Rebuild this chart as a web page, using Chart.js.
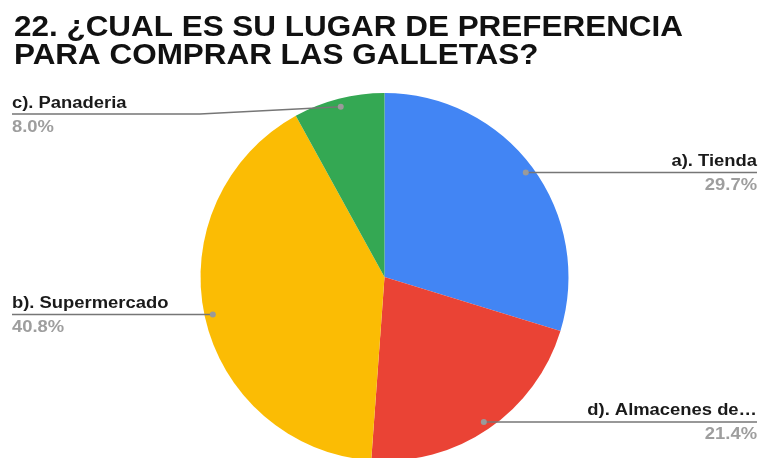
<!DOCTYPE html>
<html>
<head>
<meta charset="utf-8">
<script src="https://cdn.jsdelivr.net/npm/chart.js@4"></script>
<style>
  html, body { margin: 0; padding: 0; background: #fff; }
  #wrap { position: relative; width: 762px; height: 458px; overflow: hidden; }
  #c { display: block; }
</style>
</head>
<body>
<div id="wrap"><canvas id="c" width="762" height="462"></canvas></div>
<script>
// Survey answers, clockwise from 12 o'clock
const categories = ['a). Tienda', 'd). Almacenes de…', 'b). Supermercado', 'c). Panaderia'];
const shares = [29.7, 21.4, 40.8, 8.0];
const sliceColors = ['#4285F4', '#EA4335', '#FBBC04', '#34A853'];
const titleLines = ['22. ¿CUAL ES SU LUGAR DE PREFERENCIA', 'PARA COMPRAR LAS GALLETAS?'];

// Title and leader-line labels
const calloutPlugin = {
  id: 'callouts',
  afterDraw(chart) {
    const ctx = chart.ctx;
    const W = chart.width;

    // title
    ctx.save();
    ctx.fillStyle = '#111';
    ctx.font = 'bold 29px "Liberation Sans", Arial, sans-serif';
    ctx.textAlign = 'left';
    ctx.textBaseline = 'alphabetic';
    const tBase = [36, 63.5];
    titleLines.forEach((t, i) => {
      ctx.save();
      ctx.translate(14, tBase[i]);
      ctx.scale(1.084, 1);
      ctx.fillText(t, 0, 0);
      ctx.restore();
    });
    ctx.restore();

    const meta = chart.getDatasetMeta(0);
    const minLineY = 114;
    meta.data.forEach((arc, i) => {
      const p = arc.getProps(['x', 'y', 'startAngle', 'endAngle', 'outerRadius'], true);
      const mid = (p.startAngle + p.endAngle) / 2;
      const r = p.outerRadius * 0.955;
      const dx = p.x + Math.cos(mid) * r;
      const dy = p.y + Math.sin(mid) * r;
      const right = Math.cos(mid) >= 0;
      const lineY = Math.max(dy, minLineY);
      const edgeX = right ? W - 5 : 12;

      // leader line
      ctx.save();
      ctx.strokeStyle = '#767676';
      ctx.lineWidth = 1.4;
      ctx.beginPath();
      ctx.moveTo(dx, dy);
      if (Math.abs(lineY - dy) > 0.5) {
        const bendX = right ? dx + 141 : dx - 141;
        ctx.lineTo(bendX, lineY);
      }
      ctx.lineTo(edgeX, lineY);
      ctx.stroke();

      // dot on the slice
      ctx.fillStyle = '#9a9a9a';
      ctx.beginPath();
      ctx.arc(dx, dy, 3, 0, Math.PI * 2);
      ctx.fill();

      // category and share
      ctx.font = 'bold 16px "Liberation Sans", Arial, sans-serif';
      ctx.textAlign = right ? 'right' : 'left';
      ctx.textBaseline = 'alphabetic';
      const drawText = (txt, y, color) => {
        ctx.save();
        ctx.fillStyle = color;
        ctx.translate(edgeX, y);
        ctx.scale(1.15, 1);
        ctx.fillText(txt, 0, 0);
        ctx.restore();
      };
      drawText(categories[i], lineY - 6.5, '#1a1a1a');
      drawText(shares[i].toFixed(1) + '%', lineY + 17.5, '#9e9e9e');
      ctx.restore();
    });
  }
};

new Chart(document.getElementById('c'), {
  type: 'pie',
  data: {
    labels: categories,
    datasets: [{
      data: shares,
      backgroundColor: sliceColors,
      borderWidth: 0
    }]
  },
  options: {
    responsive: false,
    maintainAspectRatio: false,
    animation: false,
    layout: { padding: { left: 200.5, right: 193.5, top: 93, bottom: 1 } },
    plugins: {
      legend: { display: false },
      tooltip: { enabled: false },
      title: { display: false }
    }
  },
  plugins: [calloutPlugin]
});
</script>
</body>
</html>
